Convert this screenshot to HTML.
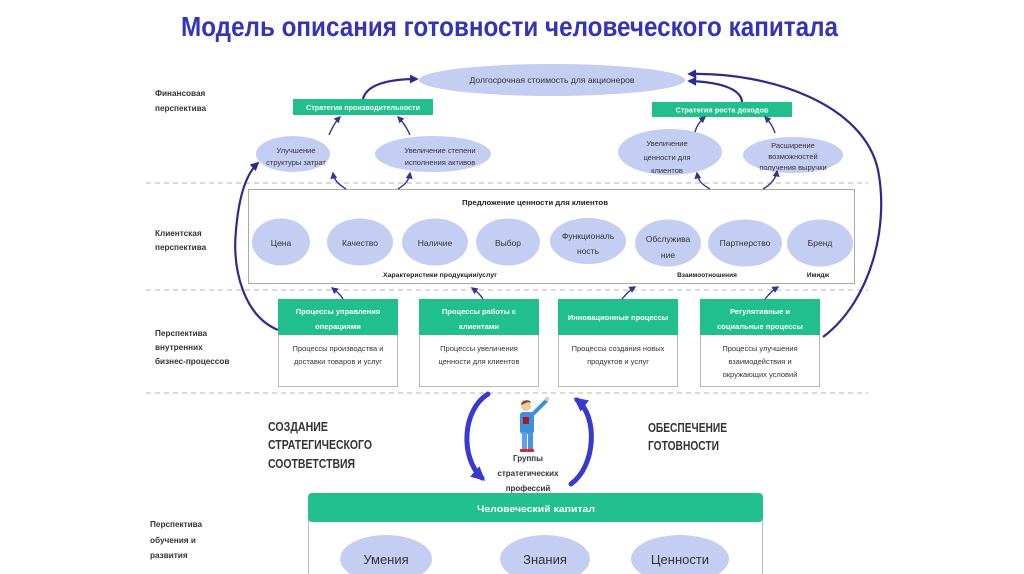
<!DOCTYPE html>
<html><head><meta charset="utf-8"><style>
html,body{margin:0;padding:0;background:#fff;}
svg{display:block;}
text{font-family:"Liberation Sans",sans-serif;}
</style></head><body>
<svg width="1024" height="574" viewBox="0 0 1024 574" xmlns="http://www.w3.org/2000/svg">
<defs>
<marker id="a" viewBox="0 0 10 10" refX="8" refY="5" markerWidth="9" markerHeight="9" markerUnits="userSpaceOnUse" orient="auto"><path d="M0,0 L10,5 L0,10 z" fill="#2b2b8f"/></marker>
<marker id="s" viewBox="0 0 10 10" refX="8" refY="5" markerWidth="7" markerHeight="7" markerUnits="userSpaceOnUse" orient="auto"><path d="M0,0 L10,5 L0,10 z" fill="#34348a"/></marker>
<marker id="t" viewBox="0 0 10 10" refX="7" refY="5" markerWidth="14" markerHeight="14" markerUnits="userSpaceOnUse" orient="auto"><path d="M0,0 L10,5 L0,10 z" fill="#3838d2"/></marker>
</defs>

<!-- title -->
<text x="181" y="36" font-size="28" font-weight="bold" fill="#3434b8" textLength="657" lengthAdjust="spacingAndGlyphs">Модель описания готовности человеческого капитала</text>

<!-- dashed separators -->
<g stroke="#b4b4b4" stroke-width="1" stroke-dasharray="5,4">
<line x1="146" y1="183" x2="868" y2="183"/>
<line x1="146" y1="290" x2="868" y2="290"/>
<line x1="146" y1="393" x2="868" y2="393"/>
</g>

<!-- left labels -->
<g font-size="8.2" font-weight="bold" fill="#333">
<text x="155" y="96">Финансовая</text>
<text x="155" y="111">перспектива</text>
<text x="155" y="236">Клиентская</text>
<text x="155" y="250">перспектива</text>
<text x="155" y="336">Перспектива</text>
<text x="155" y="350">внутренних</text>
<text x="155" y="364">бизнес-процессов</text>
<text x="150" y="527">Перспектива</text>
<text x="150" y="543">обучения и</text>
<text x="150" y="558">развития</text>
</g>

<!-- financial perspective -->
<ellipse cx="552" cy="80" rx="133" ry="16" fill="#c4cdf2"/>
<text x="552" y="83" font-size="8.5" fill="#333" text-anchor="middle" textLength="165" lengthAdjust="spacingAndGlyphs">Долгосрочная стоимость для акционеров</text>

<rect x="293" y="99" width="140" height="16" fill="#21bf8c"/>
<text x="363" y="110" font-size="7.5" font-weight="bold" fill="#fff" text-anchor="middle" textLength="114" lengthAdjust="spacingAndGlyphs">Стратегия производительности</text>
<rect x="652" y="102" width="140" height="15" fill="#21bf8c"/>
<text x="722" y="112.5" font-size="7.5" font-weight="bold" fill="#fff" text-anchor="middle" textLength="93" lengthAdjust="spacingAndGlyphs">Стратегия роста доходов</text>

<g fill="#c4cdf2">
<ellipse cx="293" cy="154" rx="37" ry="18"/>
<ellipse cx="433" cy="154" rx="58" ry="18"/>
<ellipse cx="670" cy="152" rx="52" ry="23"/>
<ellipse cx="793" cy="155" rx="50" ry="18"/>
</g>
<g font-size="7.5" fill="#333" text-anchor="middle">
<text x="296" y="153">Улучшение</text>
<text x="296" y="165">структуры затрат</text>
<text x="440" y="153">Увеличение степени</text>
<text x="440" y="165">исполнения активов</text>
<text x="667" y="146">Увеличение</text>
<text x="667" y="160">ценности для</text>
<text x="667" y="173">клиентов</text>
<text x="793" y="148">Расширение</text>
<text x="793" y="159">возможностей</text>
<text x="793" y="170">получения выручки</text>
</g>

<!-- client perspective -->
<rect x="248.5" y="189.5" width="606" height="94" fill="#fff" stroke="#aaa" stroke-width="1"/>
<text x="535" y="205" font-size="7.2" font-weight="bold" fill="#222" text-anchor="middle" textLength="146" lengthAdjust="spacingAndGlyphs">Предложение ценности для клиентов</text>
<g fill="#c4cdf2">
<ellipse cx="281" cy="242" rx="29" ry="23.5"/>
<ellipse cx="360" cy="242" rx="33" ry="23.5"/>
<ellipse cx="435" cy="242" rx="33" ry="23.5"/>
<ellipse cx="508" cy="242" rx="32" ry="23.5"/>
<ellipse cx="588" cy="241" rx="38" ry="23"/>
<ellipse cx="668" cy="243" rx="33" ry="23.5"/>
<ellipse cx="745" cy="243" rx="37" ry="23.5"/>
<ellipse cx="820" cy="243" rx="33" ry="23.5"/>
</g>
<g font-size="8.5" fill="#333" text-anchor="middle">
<text x="281" y="246">Цена</text>
<text x="360" y="246">Качество</text>
<text x="435" y="246">Наличие</text>
<text x="508" y="246">Выбор</text>
<text x="588" y="239">Функциональ</text>
<text x="588" y="254">ность</text>
<text x="668" y="242">Обслужива</text>
<text x="668" y="258">ние</text>
<text x="745" y="246">Партнерство</text>
<text x="820" y="246">Бренд</text>
</g>
<g font-size="6.5" font-weight="bold" fill="#222" text-anchor="middle">
<text x="440" y="277" textLength="114" lengthAdjust="spacingAndGlyphs">Характеристики продукции/услуг</text>
<text x="707" y="277">Взаимоотношения</text>
<text x="818" y="277">Имидж</text>
</g>

<!-- internal processes -->
<g stroke="#b8b8b8" stroke-width="1" fill="#fff">
<rect x="278.5" y="299.5" width="119" height="87"/>
<rect x="419.5" y="299.5" width="119" height="87"/>
<rect x="558.5" y="299.5" width="119" height="87"/>
<rect x="700.5" y="299.5" width="119" height="87"/>
</g>
<g fill="#21bf8c">
<rect x="278" y="299" width="120" height="36"/>
<rect x="419" y="299" width="120" height="36"/>
<rect x="558" y="299" width="120" height="36"/>
<rect x="700" y="299" width="120" height="36"/>
</g>
<g font-size="7.5" font-weight="bold" fill="#fff" text-anchor="middle">
<text x="338" y="314">Процессы управления</text>
<text x="338" y="329">операциями</text>
<text x="479" y="314">Процессы работы с</text>
<text x="479" y="329">клиентами</text>
<text x="618" y="320">Инновационные процессы</text>
<text x="760" y="314">Регулятивные и</text>
<text x="760" y="329">социальные процессы</text>
</g>
<g font-size="7.5" fill="#333" text-anchor="middle">
<text x="338" y="351">Процессы производства и</text>
<text x="338" y="364">доставки товаров и услуг</text>
<text x="479" y="351">Процессы увеличения</text>
<text x="479" y="364">ценности для клиентов</text>
<text x="618" y="351">Процессы создания новых</text>
<text x="618" y="364">продуктов и услуг</text>
<text x="760" y="351">Процессы улучшения</text>
<text x="760" y="364">взаимодействия и</text>
<text x="760" y="377">окружающих условий</text>
</g>

<!-- connectors -->
<g fill="none" stroke="#2b2b8f" stroke-width="2.2">
<path d="M363,99 C366,86 385,79 417,79" marker-end="url(#a)"/>
<path d="M742,102 C741,88 718,82 689,81" marker-end="url(#a)"/>
<path d="M823,337 C872,300 889,225 878,170 C864,105 772,72 689,74" marker-end="url(#a)"/>
<path d="M278,330 C244,316 232,270 236,230 C239,195 247,173 258,163" marker-end="url(#a)"/>
</g>
<g fill="none" stroke="#34348a" stroke-width="1.4">
<path d="M329,135 C332,128 335,122 340,117" marker-end="url(#s)"/>
<path d="M410,135 C407,128 403,122 398,117" marker-end="url(#s)"/>
<path d="M695,132 C697,125 700,121 705,117" marker-end="url(#s)"/>
<path d="M775,133 C773,126 769,121 765,117" marker-end="url(#s)"/>
<path d="M346,189 C338,184 334,180 333,173" marker-end="url(#s)"/>
<path d="M398,189 C406,184 409,180 410,173" marker-end="url(#s)"/>
<path d="M710,189 C701,184 698,180 697,173" marker-end="url(#s)"/>
<path d="M763,189 C772,184 776,178 777,171" marker-end="url(#s)"/>
<path d="M343,299 C340,294 336,291 332,288" marker-end="url(#s)"/>
<path d="M483,299 C480,294 476,291 472,288" marker-end="url(#s)"/>
<path d="M622,299 C626,294 630,290 635,287" marker-end="url(#s)"/>
<path d="M765,299 C769,294 773,290 778,287" marker-end="url(#s)"/>
</g>

<!-- bottom section -->
<g font-size="12.5" font-weight="bold" fill="#333">
<text x="268" y="431" textLength="60" lengthAdjust="spacingAndGlyphs">СОЗДАНИЕ</text>
<text x="268" y="449" textLength="104" lengthAdjust="spacingAndGlyphs">СТРАТЕГИЧЕСКОГО</text>
<text x="268" y="468" textLength="87" lengthAdjust="spacingAndGlyphs">СООТВЕТСТВИЯ</text>
<text x="648" y="432" textLength="79" lengthAdjust="spacingAndGlyphs">ОБЕСПЕЧЕНИЕ</text>
<text x="648" y="450" textLength="71" lengthAdjust="spacingAndGlyphs">ГОТОВНОСТИ</text>
</g>

<!-- thick arrows -->
<g fill="none" stroke="#3838d2" stroke-width="5" stroke-linecap="round">
<path d="M488,394 C462,410 460,458 482,478" marker-end="url(#t)"/>
<path d="M571,484 C596,466 598,416 577,400" marker-end="url(#t)"/>
</g>

<!-- person -->
<g>
<path d="M533,414 L546,401" stroke="#3d8fe0" stroke-width="4" stroke-linecap="round"/>
<circle cx="547" cy="399" r="2.2" fill="#f2c9a2"/>
<rect x="520" y="412" width="14" height="22" rx="3" fill="#3d8fe0"/>
<rect x="522" y="432" width="5" height="18" fill="#5aa0ea"/>
<rect x="528" y="432" width="5" height="18" fill="#4a92e2"/>
<rect x="520" y="449" width="7" height="3" rx="1" fill="#d22"/>
<rect x="527" y="449" width="7" height="3" rx="1" fill="#d22"/>
<rect x="523" y="417" width="6" height="7" fill="#b01818"/>
<circle cx="526" cy="406" r="5" fill="#f2c9a2"/>
<path d="M521,405 C521,399 531,399 531,403 L528,402 Z" fill="#7a4a2a"/>
</g>
<g font-size="8" font-weight="bold" fill="#333" text-anchor="middle">
<text x="528" y="461">Группы</text>
<text x="528" y="476">стратегических</text>
<text x="528" y="491">профессий</text>
</g>

<rect x="308.5" y="512.5" width="454" height="80" rx="8" fill="#fff" stroke="#bbb" stroke-width="1"/>
<rect x="308" y="493" width="455" height="29" rx="4" fill="#21c08d"/>
<text x="536" y="512" font-size="9.5" font-weight="bold" fill="#fff" text-anchor="middle" textLength="118" lengthAdjust="spacingAndGlyphs">Человеческий капитал</text>

<g fill="#c4cdf2">
<ellipse cx="386" cy="559" rx="46" ry="24"/>
<ellipse cx="545" cy="559" rx="45" ry="24"/>
<ellipse cx="680" cy="559" rx="49" ry="24"/>
</g>
<g font-size="13" fill="#333" text-anchor="middle">
<text x="386" y="564">Умения</text>
<text x="545" y="564">Знания</text>
<text x="680" y="564">Ценности</text>
</g>
</svg>
</body></html>
